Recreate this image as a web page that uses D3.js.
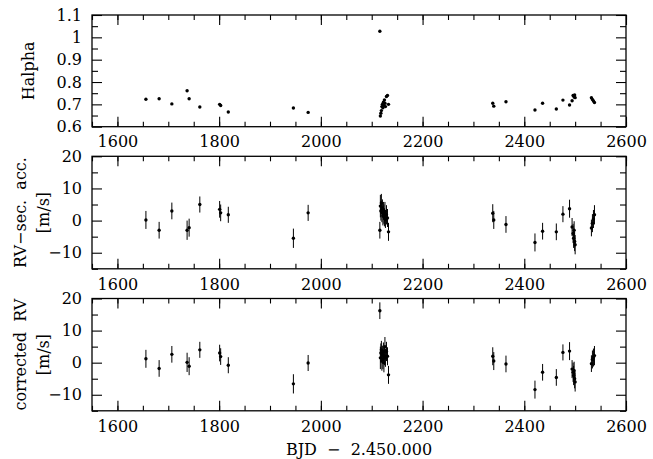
<!DOCTYPE html>
<html>
<head>
<meta charset="utf-8">
<script src="https://cdn.jsdelivr.net/npm/d3@7"></script>
<style>
  body { margin: 0; background: #fff; }
  svg text { font-family: "DejaVu Serif", "Liberation Serif", serif; }
</style>
</head>
<body>
<svg id="chart" width="653" height="459"></svg>
<script>
// BJD - 2450000 (same epochs in all three panels)
var bjd = [1656, 1682, 1707, 1737, 1741, 1762, 1801, 1803, 1818, 1946, 1975,
    2116, 2117, 2118, 2119, 2120, 2121, 2122, 2123, 2124, 2125, 2126, 2127, 2129, 2131, 2133,
    2338, 2340, 2364, 2421, 2436, 2463, 2476, 2489, 2494, 2496, 2497, 2498, 2499, 2500,
    2532, 2534, 2536, 2538];

var halpha = [0.723, 0.725, 0.702, 0.761, 0.725, 0.688, 0.700, 0.695, 0.666, 0.684, 0.664,
    1.027, 0.648, 0.660, 0.672, 0.690, 0.700, 0.685, 0.710, 0.695, 0.720, 0.705, 0.690, 0.735, 0.740, 0.700,
    0.705, 0.692, 0.712, 0.675, 0.705, 0.679, 0.719, 0.697, 0.716, 0.740, 0.738, 0.733, 0.742, 0.730,
    0.730, 0.722, 0.715, 0.708];

var rvSecAcc = [0.2, -3.0, 3.0, -3.0, -2.2, 5.0, 3.5, 2.4, 1.8, -5.5, 2.4,
    -3.0, 4.5, 3.0, 5.5, 2.5, 3.8, 1.5, 3.0, 2.0, 1.0, 2.8, 0.5, 1.8, 0.8, -3.5,
    2.3, 0.2, -1.2, -6.8, -3.3, -3.5, 2.0, 3.7, -2.0, -4.0, -5.5, -3.0, -6.5, -7.5,
    -2.3, -0.8, 0.5, 1.8];

var rvCorrected = [1.2, -1.8, 2.6, 0.1, -1.1, 4.0, 3.0, 1.9, -0.8, -6.6, -0.1,
    16.2, 1.5, 3.0, 4.0, 0.5, 2.5, 1.0, 3.5, 0.0, 2.0, 5.0, 1.5, 3.5, 2.0, -3.8,
    2.0, 0.5, -0.4, -8.4, -3.0, -4.6, 3.2, 3.6, -2.0, -3.0, -4.0, -2.5, -5.0, -6.0,
    -0.3, 1.0, 1.6, 2.2];

var rvError = [2.8, 2.6, 2.6, 3.0, 2.8, 2.5, 2.6, 2.6, 2.5, 3.0, 2.5,
    2.6, 3.5, 3.0, 2.8, 3.0, 2.8, 3.0, 2.8, 3.0, 2.8, 3.0, 2.8, 3.0, 2.8, 2.8,
    2.8, 2.8, 2.6, 2.8, 2.6, 2.6, 2.5, 2.8, 2.8, 3.0, 3.0, 2.8, 3.0, 3.0,
    2.6, 2.8, 2.8, 3.0];

// axis ticks and labels
var xMajor = [1600, 1800, 2000, 2200, 2400, 2600];
var xMinor = d3.range(1550, 2601, 50);
var halphaTicks = [0.6, 0.7, 0.8, 0.9, 1.0, 1.1];
var halphaTickLabels = ["0.6", "0.7", "0.8", "0.9", "1", "1.1"];
var halphaMinor = [0.65, 0.75, 0.85, 0.95, 1.05];
var rvTicks = [-10, 0, 10, 20];
var rvTickLabels = ["\u221210", "0", "10", "20"];
var rvMinor = [-15, -5, 5, 15];

var svg = d3.select("#chart");

var left = 92, right = 626;
var FONT = 16;

var xScale = d3.scaleLinear()
    .domain([1550, 2600])
    .range([left, right]);

var panels = [
    { top: 15, bottom: 126.7, domain: [0.6, 1.1], values: halpha, errors: null,
      ticks: halphaTicks, tickLabels: halphaTickLabels, minor: halphaMinor,
      labels: [{ text: "Halpha", x: 28 }] },
    { top: 156.3, bottom: 268.8, domain: [-15, 20], values: rvSecAcc, errors: rvError,
      ticks: rvTicks, tickLabels: rvTickLabels, minor: rvMinor,
      labels: [{ text: "RV\u2212sec.  acc.", x: 20 }, { text: "[m/s]", x: 43 }] },
    { top: 298.5, bottom: 410.8, domain: [-15, 20], values: rvCorrected, errors: rvError,
      ticks: rvTicks, tickLabels: rvTickLabels, minor: rvMinor,
      labels: [{ text: "corrected  RV", x: 20 }, { text: "[m/s]", x: 43 }] }
];

panels.forEach(function(p) {
    drawPanel(p);
});

// x title
svg.append("text")
    .attr("x", (left + right) / 2)
    .attr("y", 449)
    .attr("text-anchor", "middle")
    .attr("dominant-baseline", "central")
    .attr("font-size", FONT)
    .style("white-space", "pre")
    .text("BJD  \u2212  2.450.000");

function styleAxis(g) {
    g.select(".domain").remove();
    g.selectAll(".tick line").attr("stroke", "#000").attr("stroke-width", 1.1);
    g.selectAll(".tick text")
        .attr("font-family", "DejaVu Serif, serif")
        .attr("font-size", FONT)
        .attr("fill", "#000");
}

function drawPanel(p) {
    var yScale = d3.scaleLinear()
        .domain(p.domain)
        .range([p.bottom, p.top]);

    var g = svg.append("g");

    // x axes: bottom with labels, top without
    g.append("g")
        .attr("transform", "translate(0," + p.bottom + ")")
        .call(d3.axisBottom(xScale).tickValues(xMinor).tickSize(-5).tickFormat(""))
        .call(styleAxis);
    g.append("g")
        .attr("transform", "translate(0," + p.bottom + ")")
        .call(d3.axisBottom(xScale).tickValues(xMajor).tickSize(-10).tickPadding(8)
            .tickFormat(function(d) { return d; }))
        .call(styleAxis)
        .selectAll(".tick text")
        .attr("dy", "0.8em");
    g.append("g")
        .attr("transform", "translate(0," + p.top + ")")
        .call(d3.axisTop(xScale).tickValues(xMinor).tickSize(-5).tickFormat(""))
        .call(styleAxis);
    g.append("g")
        .attr("transform", "translate(0," + p.top + ")")
        .call(d3.axisTop(xScale).tickValues(xMajor).tickSize(-10).tickFormat(""))
        .call(styleAxis);

    // y axes
    g.append("g")
        .attr("transform", "translate(" + left + ",0)")
        .call(d3.axisLeft(yScale).tickValues(p.minor).tickSize(-6).tickFormat(""))
        .call(styleAxis);
    g.append("g")
        .attr("transform", "translate(" + left + ",0)")
        .call(d3.axisLeft(yScale).tickValues(p.ticks).tickSize(-10).tickPadding(10)
            .tickFormat(function(d, i) { return p.tickLabels[i]; }))
        .call(styleAxis);
    g.append("g")
        .attr("transform", "translate(" + right + ",0)")
        .call(d3.axisRight(yScale).tickValues(p.minor).tickSize(-6).tickFormat(""))
        .call(styleAxis);
    g.append("g")
        .attr("transform", "translate(" + right + ",0)")
        .call(d3.axisRight(yScale).tickValues(p.ticks).tickSize(-10).tickFormat(""))
        .call(styleAxis);

    // frame
    g.append("rect")
        .attr("x", left)
        .attr("y", p.top)
        .attr("width", right - left)
        .attr("height", p.bottom - p.top)
        .attr("fill", "none")
        .attr("stroke", "#000")
        .attr("stroke-width", 1.3);

    // y title(s)
    var cy = (p.top + p.bottom) / 2;
    g.selectAll(".ylabel")
        .data(p.labels)
        .enter().append("text")
        .attr("class", "ylabel")
        .attr("transform", function(d) {
            return "translate(" + d.x + "," + cy + ") rotate(-90)";
        })
        .attr("text-anchor", "middle")
        .attr("dominant-baseline", "central")
        .attr("font-size", FONT)
        .style("white-space", "pre")
        .text(function(d) { return d.text; });

    var idx = d3.range(bjd.length);

    // error bars
    if (p.errors) {
        g.append("g")
            .selectAll("line")
            .data(idx)
            .enter().append("line")
            .attr("x1", function(i) { return xScale(bjd[i]); })
            .attr("x2", function(i) { return xScale(bjd[i]); })
            .attr("y1", function(i) { return yScale(p.values[i] - p.errors[i]); })
            .attr("y2", function(i) { return yScale(p.values[i] + p.errors[i]); })
            .attr("stroke", "#000")
            .attr("stroke-width", 1);
    }

    // points
    g.append("g")
        .selectAll("circle")
        .data(idx)
        .enter().append("circle")
        .attr("cx", function(i) { return xScale(bjd[i]); })
        .attr("cy", function(i) { return yScale(p.values[i]); })
        .attr("r", 1.7)
        .attr("fill", "#000");
}
</script>
</body>
</html>
